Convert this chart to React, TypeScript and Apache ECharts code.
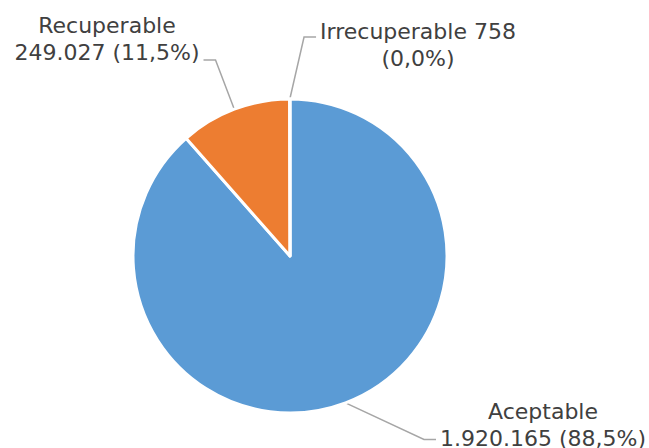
import React, { useEffect, useRef } from "react";
import * as echarts from "echarts";

const categories = ["Aceptable", "Recuperable", "Irrecuperable"];
const values = [1920165, 249027, 758];
const colors = ["#5B9BD5", "#ED7D31", "#A5A5A5"];

function fmtNum(n: number): string {
  return String(n).replace(/\B(?=(\d{3})+(?!\d))/g, ".");
}

export default function App() {
  const ref = useRef<HTMLDivElement>(null);
  useEffect(() => {
    if (!ref.current) return;
    const chart = echarts.init(ref.current, null, { renderer: "svg" });
    const total = values.reduce((a, b) => a + b, 0);
    // label box top-left anchor (center x, top y) and padding to shift the leader attach point
    const labelPos = [
      { x: 543, y: 398 },
      { x: 107, y: 12 },
      { x: 418, y: 2 },
    ];
    const paddings = [
      [0, 4, 29, 4],
      [0, 4, 42, 4],
      [16, 4, 0, 4],
    ];
    chart.setOption({
      animation: false,
      backgroundColor: "#ffffff",
      series: [
        {
          type: "pie",
          center: [290, 256],
          radius: 157,
          startAngle: 90,
          clockwise: true,
          avoidLabelOverlap: false,
          data: categories.map((c, i) => ({
            name: c,
            value: values[i],
            itemStyle: { color: colors[i] },
            label: { padding: paddings[i], backgroundColor: "rgba(255,255,255,0)" },
          })),
          itemStyle: { borderColor: "#ffffff", borderWidth: 3 },
          label: {
            show: true,
            position: "outside",
            fontFamily: "DejaVu Sans",
            fontSize: 22,
            lineHeight: 27,
            color: "#404040",
            align: "center",
            formatter: (p: any) => {
              const pct = ((p.value / total) * 100).toFixed(1).replace(".", ",");
              if (p.dataIndex === 2) return `${p.name} ${fmtNum(p.value)}\n(${pct}%)`;
              return `${p.name}\n${fmtNum(p.value)} (${pct}%)`;
            },
          },
          labelLine: {
            show: true,
            length: 20,
            length2: 12,
            smooth: false,
            lineStyle: { color: "#A6A6A6", width: 1.5 },
          },
          labelLayout: (params: any) => {
            const lp = labelPos[params.dataIndex];
            return { x: lp.x, y: lp.y, align: "center", verticalAlign: "top" };
          },
          emphasis: { disabled: true },
        },
      ],
    });
    return () => chart.dispose();
  }, []);
  return (
    <div
      ref={ref}
      style={{ position: "fixed", left: 0, top: 0, width: 649, height: 448 }}
    />
  );
}
